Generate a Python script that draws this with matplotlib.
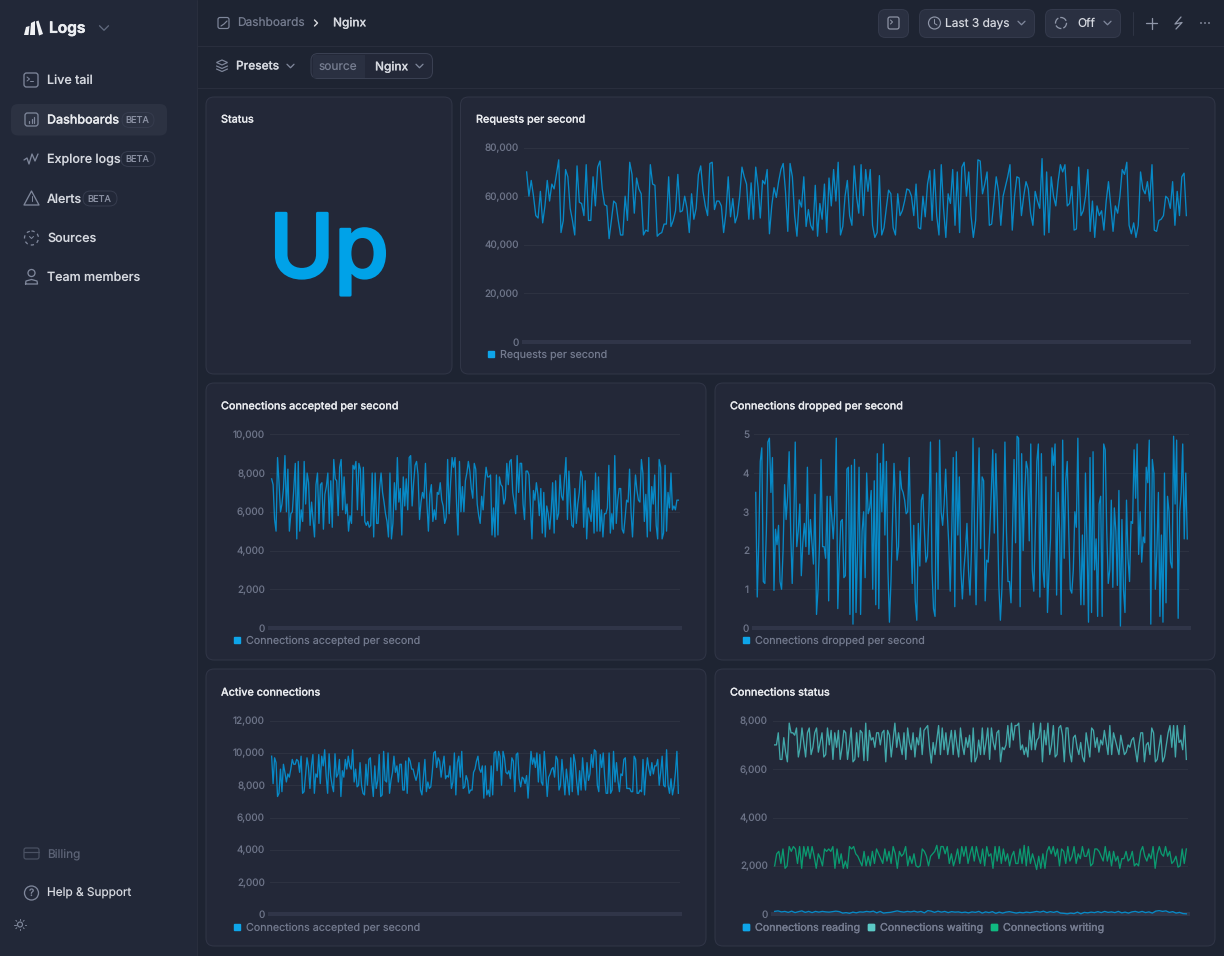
import matplotlib
matplotlib.use("Agg")
import matplotlib.pyplot as plt
import matplotlib.patheffects as pe
from matplotlib.patches import FancyBboxPatch, Rectangle, Circle, Polygon
from matplotlib.lines import Line2D
from matplotlib.ticker import FuncFormatter, FixedLocator

# ---------- data (thousands unless noted) ----------
requests_k = [70,60,66.5,60,52,51,62,49,56,66.5,58,65,63,69,75,45,50,71,68,55,50,44,72.5,57.5,57,52,73,50,50,68,56,72,74.5,63,56.5,56,42.5,50,58,57,50,44,44,60,50,74,69,53,67.5,63,61,44,46,45.5,73,65,64.5,43.5,44.5,45,48.5,48.5,68,47.5,50,54,69,53.5,54,60,55,45,61,50.5,55,69,72.5,62,56,52,73.5,74,54.5,58,58,56,45,53,68,51.5,59,49,52,60,72,68,65,50.5,65.5,50.5,72,64,51,66.5,65,71,44.5,56,63.5,59.5,66,71,73.5,62,45.5,73.5,68,52,43.5,58.5,55.5,68,47.5,54.5,48,46,64.5,43.5,57,50.5,65,45,67.5,56,71,58,74,44,47.5,60,66.5,
 52,48,72.5,60,53,73,52,71,62,71,48,43,45,68.5,44,47,55,62.5,61,47,44,61,52,54,58,63,62.5,60,52,65,47,46.5,60,51.5,65,70.5,50,71,52,44,73,55,43,61,57,71,48,70,45,72,74,60,70,52,43,50,75,74.5,61,65,70,48,48.5,58,68,62,48,60,64,68,73,46,60,68,67.5,52,60,66,63,53,48,62,58,55,75.5,44,70,45,68,60,56,66,73,70,73,56,57,64,46,46.5,72,52,54,60,71,45.5,58,43,56,52,54,46,58,66,56,45.5,56,53,60,71,69,74,48,44.5,49,43,48,70,63,61,66,58,73,46,45.5,50,50.5,52,60,59,55,66,48,62,52,68,69.5,52]

accepted_k = [7.7,7.4,5.6,5.0,8.8,7.5,6.0,6.4,7.2,8.9,6.0,8.2,5.0,5.9,6.0,7.2,8.5,4.6,8.6,5.0,6.1,5.5,8.6,6.4,8.0,7.5,5.3,6.5,5.6,4.7,7.4,8.0,5.4,7.4,7.5,5.1,6.9,7.3,8.0,5.4,7.6,5.2,8.7,7.7,7.6,5.8,8.3,8.7,6.1,7.8,5.9,6.4,5.0,5.8,5.4,8.4,8.2,8.6,6.1,8.5,8.2,5.8,8.3,5.5,5.3,5.5,5.2,5.3,8.0,4.7,8.0,5.4,5.4,7.2,8.0,7.0,6.5,5.9,5.5,4.7,8.0,4.6,5.4,7.5,6.1,8.8,6.5,7.2,4.8,7.8,6.3,7.7,6.1,8.8,8.9,6.3,7.5,8.4,8.6,7.9,5.6,6.5,7.0,6.7,8.5,6.4,5.0,6.9,7.4,5.5,6.1,5.6,7.0,6.9,7.5,6.6,6.3,5.4,5.7,8.7,5.9,7.5,8.8,8.3,8.8,6.5,4.8,8.6,6.0,7.3,6.0,7.6,8.0,8.6,8.1,7.2,6.7,8.5,8.2,6.4,5.8,5.4,6.8,6.1,7.4,8.3,7.8,7.8,7.9,4.8,6.2,4.7,7.9,4.8,7.8,7.4,7.3,6.4,6.7,8.5,7.4,8.6,8.7,7.0,6.5,5.9,8.9,7.0,8.5,8.5,6.4,5.6,8.1,8.1,7.9,6.3,4.6,7.1,6.6,7.5,6.9,5.8,7.2,4.9,7.0,4.7,6.3,5.9,5.1,6.0,7.5,4.9,7.6,5.6,5.9,7.9,6.8,6.6,7.7,8.8,5.6,8.1,6.5,5.3,5.2,7.2,5.4,6.4,7.0,8.1,7.8,5.2,7.6,4.6,6.2,5.9,5.5,7.1,4.9,8.0,5.0,7.8,5.0,6.1,4.7,5.9,5.9,6.2,8.4,4.9,5.9,5.1,8.9,5.4,6.6,7.2,7.2,5.1,4.9,5.7,6.6,6.5,8.2,6.0,4.7,6.5,7.9,7.1,6.6,6.5,8.7,8.0,5.5,6.9,4.7,8.8,5.0,7.3,6.4,7.9,5.3,4.6,8.7,8.3,4.6,4.9,8.4,5.0,7.0,6.2,8.0,6.1,6.3,6.1,6.6,6.6]

dropped = [3.5,0.8,2.2,4.3,4.65,1.2,1.15,2.5,4.8,4.9,3.5,4.4,0.97,2.55,2.15,2.65,1.2,1.0,2.0,3.7,2.8,3.4,4.55,2.5,1.15,2.6,4.8,2.1,2.5,3.2,1.35,2.2,2.7,2.1,4.15,1.9,2.8,2.2,1.65,3.45,0.35,1.0,2.2,4.35,2.1,2.1,1.8,3.4,0.7,3.4,2.9,2.3,3.0,4.9,0.5,1.8,2.75,2.8,1.3,1.35,4.1,4.15,0.35,4.2,0.1,4.35,0.4,2.0,4.15,0.35,2.5,3.0,1.3,4.0,2.95,3.1,3.55,1.0,3.8,0.6,4.5,0.5,4.25,3.0,4.75,2.4,4.3,1.5,0.15,1.2,2.7,4.25,3.2,1.75,2.1,4.05,3.6,3.5,3.3,2.95,3.0,4.4,2.5,1.15,2.65,0.7,0.2,2.7,1.6,3.3,3.45,2.5,1.7,1.85,3.0,4.8,1.5,0.5,0.3,4.0,1.0,4.85,3.0,2.65,3.2,4.1,3.0,2.2,0.95,2.5,4.4,0.55,4.55,2.4,3.9,1.5,0.75,1.5,2.0,2.7,1.5,0.85,2.0,4.9,2.5,0.6,3.0,4.65,2.05,3.9,3.8,0.7,1.75,1.7,2.5,3.5,4.6,2.45,4.5,3.0,1.1,0.2,1.0,2.5,4.8,2.5,1.2,1.2,0.65,2.5,4.35,2.2,4.95,4.9,0.55,4.5,2.0,3.5,4.3,4.1,2.25,4.75,1.5,0.95,2.5,4.3,4.75,0.8,4.5,1.5,1.05,3.9,0.4,1.5,2.3,4.65,4.2,4.75,0.85,3.5,2.5,0.35,4.85,1.8,3.8,4.3,2.5,1.0,0.9,1.5,3.0,2.6,4.9,2.0,0.6,2.4,0.6,4.0,2.2,0.15,4.4,0.4,4.55,1.5,2.3,0.3,3.2,3.4,0.3,4.75,4.6,2.5,1.15,1.5,3.3,1.05,3.1,2.5,1.1,3.55,0.05,2.8,1.0,0.4,3.3,1.8,1.2,2.75,2.7,4.6,3.35,4.75,1.9,3.0,1.7,2.35,2.2,4.15,3.75,4.85,0.1,4.35,4.0,1.0,2.0,3.5,0.3,2.4,0.15,4.0,0.65,3.4,3.0,1.7,1.55,4.95,3.2,4.85,0.25,3.0,3.5,4.75,2.3,4.0,2.3]

active_k = [9.8,8.1,9.7,9.4,7.3,7.5,9.0,7.6,9.3,8.8,8.2,8.7,8.5,9.0,9.6,9.3,9.3,9.6,9.5,8.8,9.8,7.5,7.6,8.6,9.7,9.1,7.8,9.2,9.9,7.5,8.7,8.5,9.9,8.1,9.8,9.2,10.2,8.6,7.5,9.95,8.6,8.0,7.6,9.95,8.5,8.7,9.6,7.3,8.9,8.5,9.6,9.0,9.8,9.2,9.0,10.2,8.2,9.0,7.9,8.0,9.4,8.0,7.5,7.4,9.3,8.0,9.6,9.7,8.2,7.3,9.2,7.8,8.3,9.9,7.3,7.4,10.1,8.3,8.2,10.0,7.5,8.3,8.8,9.8,8.8,9.2,8.2,9.3,9.3,7.7,7.7,9.5,7.5,9.7,9.5,9.0,9.0,8.6,8.3,8.7,9.4,7.7,7.4,8.5,9.6,7.6,8.2,7.8,7.9,8.8,10.0,10.1,9.1,9.7,9.5,8.5,9.2,9.8,8.4,8.6,8.5,9.2,7.8,8.2,10.0,7.4,9.4,9.8,8.5,10.1,7.8,7.9,8.6,8.3,7.5,7.7,7.7,8.8,9.0,9.5,9.8,9.0,8.8,9.2,7.2,9.2,7.4,7.7,7.3,9.2,7.4,10.0,10.1,8.9,10.1,9.8,8.0,10.1,9.7,8.8,8.7,8.9,8.4,9.7,9.5,7.6,9.9,10.0,8.4,7.9,8.5,8.4,8.1,8.6,7.2,8.7,10.1,9.3,9.7,9.1,10.0,8.2,9.9,8.2,8.0,10.1,8.8,7.3,8.5,8.7,9.0,9.1,8.5,9.8,9.6,7.7,8.0,9.6,8.5,7.4,9.0,8.2,7.4,9.7,7.6,9.9,9.4,8.2,7.4,8.9,7.7,9.7,8.5,7.7,9.4,8.3,8.7,9.9,9.1,10.2,10.1,8.0,7.6,9.9,9.1,10.0,8.5,7.5,7.5,10.0,7.5,7.7,10.1,8.2,9.4,8.3,7.6,8.7,8.6,9.6,9.7,7.8,7.8,7.8,7.6,7.6,9.8,9.6,7.5,7.5,7.7,7.6,9.6,7.4,8.8,9.7,9.0,8.6,9.4,8.7,9.2,9.2,9.6,8.0,8.8,9.8,8.0,7.9,10.2,8.0,7.5,8.4,7.4,7.9,8.8,10.1,7.5]

waiting_k = [7.0,7.0,7.5,6.4,6.4,7.3,6.7,6.3,7.9,7.5,7.5,7.4,7.7,6.5,6.9,7.7,7.1,6.5,7.5,7.7,6.6,6.9,7.5,7.7,6.7,7.1,7.5,6.5,6.6,7.7,7.0,7.6,6.4,7.5,6.9,7.6,6.4,6.9,7.6,7.5,6.4,7.0,7.7,6.3,6.4,7.5,6.5,7.6,7.5,6.35,7.9,6.35,7.6,7.2,7.3,6.9,7.5,7.5,7.0,7.5,7.6,6.3,7.6,7.4,6.5,7.2,7.9,6.9,7.5,7.0,6.6,7.5,6.4,7.7,7.1,6.8,7.5,6.5,7.3,7.0,7.7,6.6,7.6,7.7,7.8,6.9,6.25,7.1,6.6,7.2,7.8,6.6,7.7,6.8,7.5,6.6,7.1,7.6,6.6,7.6,7.0,6.5,7.7,7.0,6.6,7.3,6.9,7.4,6.3,7.7,6.3,6.5,7.2,6.6,7.7,6.6,7.1,7.7,6.4,7.7,7.1,6.8,7.5,7.6,6.3,6.9,6.8,7.0,7.8,6.9,7.9,7.2,7.8,7.8,7.9,6.8,7.0,6.6,6.9,6.5,7.6,6.8,7.9,6.8,7.2,7.3,7.9,6.3,7.6,7.0,7.9,6.6,7.0,7.8,6.5,6.6,7.7,7.8,7.4,6.3,7.7,7.7,6.7,6.3,7.3,7.4,6.9,6.6,7.1,6.5,6.3,7.5,7.0,6.5,7.7,7.6,6.9,7.3,6.7,7.2,7.0,7.6,7.1,6.6,7.8,6.6,7.5,7.2,6.9,6.6,7.4,7.0,6.6,6.7,7.0,6.9,7.2,7.3,6.8,6.3,7.0,7.5,7.5,6.3,7.0,7.1,6.6,7.7,7.5,6.3,6.4,6.9,7.4,6.3,6.5,7.0,7.5,7.8,6.9,7.8,6.5,7.8,7.1,7.2,6.8,7.8,6.4]

writing_k = [2.0,2.5,2.6,2.1,2.7,1.9,2.0,2.8,2.6,2.8,2.7,2.1,2.8,1.9,2.8,2.4,2.8,2.3,2.8,2.4,1.9,2.5,2.3,2.0,2.7,2.6,2.7,2.6,2.8,1.9,2.7,2.1,2.5,1.9,2.2,1.9,2.8,2.7,2.8,2.5,2.4,2.2,2.0,2.6,2.0,2.4,2.0,2.6,2.1,2.7,2.5,2.3,2.1,2.7,2.2,2.6,2.1,2.8,2.5,1.9,2.6,2.4,2.5,2.8,2.0,2.4,2.1,2.5,2.0,1.95,2.0,2.7,2.6,2.4,2.0,2.4,2.5,2.6,2.85,2.3,2.8,2.8,2.5,2.8,2.1,2.5,2.0,2.3,2.7,2.1,2.8,2.4,2.8,2.1,2.5,2.8,2.2,2.8,2.4,2.1,2.7,2.0,2.8,2.4,2.5,1.9,2.8,2.2,2.8,2.1,2.7,2.2,2.5,2.0,2.4,2.6,2.1,2.1,2.7,2.1,2.85,2.0,2.8,2.1,2.5,2.2,1.85,2.4,1.9,2.5,1.9,2.6,2.8,2.5,2.8,2.4,2.7,2.0,2.7,2.6,2.1,2.8,2.2,2.4,2.8,2.1,2.5,2.3,2.8,2.4,2.4,2.7,2.0,2.1,2.7,2.7,2.6,2.4,2.2,2.8,2.2,2.6,2.0,2.6,2.2,2.4,1.9,2.3,2.3,2.6,2.2,2.3,2.6,2.0,2.1,2.0,2.6,2.8,2.4,2.2,2.5,2.3,2.8,1.9,2.5,2.8,2.5,2.4,2.8,2.4,2.6,2.1,2.2,2.4,1.95,2.0,2.7,2.1,2.7]

reading_k = [.12,.14,.1,.12,.08,.13,.07,.11,.14,.08,.12,.07,.12,.09,.12,.1,.09,.11,.13,.11,.05,.07,.04,.09,.06,.1,.09,.12,.1,.13,.06,.12,.05,.07,.08,.11,.14,.11,.09,.12,.1,.13,.09,.12,.06,.15,.13,.08,.13,.09,.12,.07,.11,.09,.1,.07,.09,.06,.1,.08,.12,.05,.1,.07,.11,.04,.09,.05,.09,.11,.08,.05,.08,.06,.09,.07,.09,.12,.09,.13,.07,.11,.08,.12,.05,.04,.02,.05,.03,.09,.02,.08,.06,.09,.07,.11,.07,.12,.08,.1,.07,.12,.06,.09,.05,.1,.12,.08,.12,.07,.1,.05,.13,.15,.12,.14,.08,.11,.05,.08,.03,.02]

title_list = ["Requests per second","Connections accepted per second","Connections dropped per second","Active connections","Connections status"]
nav_items = ["Live tail","Dashboards","Explore logs","Alerts","Sources","Team members"]

# ---------- colours ----------
SIDE="#222838"; MAIN="#1e2432"; CARD="#232838"; EDGE="#313647"; SEP="#292e3d"
GRID="#2d3241"; BAND="#303548"; TICK="#6d7488"; LEG="#737a8e"; TXT="#d5d8df"; WHITE="#e8eaee"
BLUE_LINE="#0789c6"; BLUE="#0ea5e9"; TEAL_LINE="#42a8aa"; TEAL="#5cc9c6"; GREEN_LINE="#0b9a70"; GREEN="#10b981"
ICON="#7f879b"

plt.rcParams['font.family']=['Inter','DejaVu Sans']
plt.rcParams['text.hinting']='no_hinting'
plt.rcParams['text.hinting_factor']=1
W,H=1224,956
fig=plt.figure(figsize=(W/100,H/100),dpi=100,facecolor=MAIN)
ui=fig.add_axes([0,0,1,1]); ui.set_xlim(0,W); ui.set_ylim(H,0); ui.axis('off')
PT=72/100

def T(x,y,s,px=14,c=TXT,w=400,ha='left',z=5,bold=0):
    t=ui.text(x,y+1.2,s,fontsize=px*PT,color=c,fontweight=w,ha=ha,va='center',zorder=z)
    if bold:
        t.set_path_effects([pe.withStroke(linewidth=bold,foreground=c)])
    return t
def box(x0,y0,x1,y1,r=6,fc=CARD,ec=EDGE,lw=1,z=1):
    ui.add_patch(FancyBboxPatch((x0+r,y0+r),x1-x0-2*r,y1-y0-2*r,boxstyle=f"round,pad={r},rounding_size={r}",fc=fc,ec=ec,lw=lw*PT,zorder=z))
def L(xs,ys,c=ICON,lw=1.4,z=5):
    ui.plot(xs,ys,color=c,lw=lw*PT,zorder=z,solid_capstyle='round',solid_joinstyle='round')
def chev(x,y,s=4,c=ICON,lw=1.3):
    L([x-s,x,x+s],[y-s/2,y+s/2,y-s/2],c,lw)

# shell
ui.add_patch(Rectangle((0,0),197,H,fc=SIDE,ec='none',zorder=0))
L([197,197],[0,H],SEP,1,1)
L([197,W],[45.5,45.5],SEP,1,1)
L([197,W],[87.5,87.5],SEP,1,1)

# logo
for pts in ([(24,35),(26,27),(29.5,26),(28.5,35)],[(30,35),(31,23),(35,21),(35,35)],[(36,21.5),(38.5,20.5),(43,34),(39,35.5)]):
    ui.add_patch(Polygon(pts,fc="#f0f1f4",ec='none',zorder=5))
T(49,27.5,"Logs",15.5,"#eceef2",600,bold=0.4)
chev(104,28,4.5,"#616a7e")

# nav
nav_y=[79.5,119,158.5,198,237.5,276.5]
box(11,104,167,135.5,r=7,fc="#2c3242",ec='none',z=1)
for s,y in zip(nav_items,nav_y):
    T(47,y,s,12.5,WHITE if s=="Dashboards" else TXT,500,bold=0.15 if s=="Dashboards" else 0)
for x0,x1,y in ((122,154,120),(121,155,159),(83,117,198.5)):
    box(x0,y-7.5,x1,y+7.5,r=7.5,fc="none",ec="#363c4e",z=2)
    T((x0+x1)/2-.5,y-.7,"BETA",9.2,"#8a90a2",400,'center')
# nav icons
box(24,73,38,87,r=2.5,fc="none",ec=ICON,lw=1.3,z=5); L([27,29.5,27],[77,79,81],ICON,1); L([30,33],[81,81],ICON,1)
box(25,113,38,126,r=2.5,fc="none",ec=ICON,lw=1.3,z=5); L([29,29],[123,121],ICON,1.2); L([31.5,31.5],[123,119],ICON,1.2); L([34,34],[123,117],ICON,1.2)
L([24,27,29,32,35,38],[160,158,164,154,161,154],ICON,1.3)
ui.add_patch(Polygon([(31.5,191),(39,205),(24,205)],closed=True,fc='none',ec=ICON,lw=1.3*PT,joinstyle='round',zorder=5)); L([31.5,31.5],[196,201],ICON,1)
ui.add_patch(Circle((31.5,238),7,fc='none',ec=ICON,lw=1.3*PT,ls=(0,(2.5,2.5)),zorder=5)); L([29.5,31.5,33.5],[236.5,238.5,236.5],ICON,1)
ui.add_patch(Circle((31.5,273),3.5,fc='none',ec=ICON,lw=1.3*PT,zorder=5)); L([25.5,26,31.5,37,37.5,25.5],[284,281,279.5,281,284,284],ICON,1.3)
# bottom nav
T(47,852.5,"Billing",11.8,"#5c6376",400)
box(24,848,39,859,r=2,fc="none",ec="#4b5264",lw=1.2,z=5); L([24,39],[852,852],"#4b5264",1.2)
T(47,892.3,"Help & Support",11.8,TXT,400)
ui.add_patch(Circle((31.5,893),7,fc='none',ec=ICON,lw=1.3*PT,zorder=5)); T(31.5,891.8,"?",10,ICON,500,'center')
ui.add_patch(Circle((20,924.5),2.5,fc='none',ec=ICON,lw=1.2*PT,zorder=5))
for dx,dy in ((5,0),(-5,0),(0,5),(0,-5),(3.6,3.6),(-3.6,3.6),(3.6,-3.6),(-3.6,-3.6)):
    L([20+dx*.9,20+dx*1.15],[924.5+dy*.9,924.5+dy*1.15],ICON,1)

# top bar
box(218,17.5,229,28.5,r=2,fc="none",ec=ICON,lw=1.2,z=5); L([221,224,227],[26,24,21],ICON,1.2)
T(237.5,22.8,"Dashboards",11.9,"#767d90",400)
L([314.5,317.5,314.5],[20,23,26],"#d8dade",1.4)
T(333,21.8,"Nginx",11.9,TXT,500,bold=0.1)
box(878.5,9.5,908.5,37.5,r=7,fc="#2a3041",ec="#343a4c",z=2)
box(888,17,899,29,r=2,fc="none",ec="#9197a8",lw=1.2,z=5); L([890.5,892.5,890.5],[20,22,24],"#9197a8",1)
box(919.5,9.5,1034.5,37.5,r=7,fc="#2a3041",ec="#343a4c",z=2)
ui.add_patch(Circle((934.5,23),6,fc='none',ec="#8f96a8",lw=1.2*PT,zorder=5)); L([934.5,934.5,937],[19.5,23.5,25],"#8f96a8",1)
T(945,21.8,"Last 3 days",11.9,TXT,400); chev(1021.5,23,3.5)
box(1045.5,9.5,1120.5,37.5,r=7,fc="#2a3041",ec="#343a4c",z=2)
ui.add_patch(Circle((1061,23),5.5,fc='none',ec="#8f96a8",lw=1.3*PT,ls=(0,(5,1.5)),zorder=5))
T(1077,22.3,"Off",11.9,TXT,400); chev(1107.5,23,3.5)
L([1132.5,1132.5],[12,35],"#2e3444",1)
L([1146,1157],[23,23],"#8f96a8",1.3); L([1151.5,1151.5],[17.5,28.5],"#8f96a8",1.3)
L([1181,1175,1182,1176],[17,24,22.5,29],"#8f96a8",1.3)
for dx in (1201,1205,1209): ui.add_patch(Circle((dx,23),.9,fc="#8f96a8",ec='none',zorder=5))

# presets / source
ui.add_patch(Polygon([(222,60),(227.5,62.5),(222,65),(216.5,62.5)],fc='none',ec=ICON,lw=1.2*PT,zorder=5))
L([216.5,222,227.5],[66,68.5,66],ICON,1.2); L([216.5,222,227.5],[69,71.5,69],ICON,1.2)
T(236,65,"Presets",11.9,TXT,500,bold=0.1); chev(290.5,66,3.5)
box(311,53.5,432.5,78.5,r=7,fc="#232838",ec="#3a4052",z=2)
ui.add_patch(Rectangle((313,54.5),52,23,fc="#2a3041",ec='none',zorder=2))
T(319,65.8,"source",11.9,"#767d90",400); T(375,65.8,"Nginx",11.9,TXT,500,bold=0.1); chev(419.5,66,3.5)

# cards
cards=[(206,97,452,374),(460.5,97,1215,374),(206,383,706,660),(715,383,1215,660),(206,669,706,946),(715,669,1215,946)]
for c in cards: box(*c,r=8)
T(221,118.5,"Status",10.8,WHITE,500,bold=0.1)
T(329,253,"Up",88,"#00a2e8",500,'center',bold=2)

def chart(xrange,yrange,series,title,title_xy,yticks,fmt):
    (x0,x1),(ytop,ybot)=xrange,yrange
    ax=fig.add_axes([x0/W,1-ybot/H,(x1-x0)/W,(ybot-ytop)/H],facecolor='none',zorder=3)
    ax.set_ylim(0,yticks[-1])
    ax.set_xlim(-0.004,1.004)
    for vals,col in series:
        m=len(vals)
        ax.plot([i/(m-1) for i in range(m)],vals,color=col,lw=0.95,solid_joinstyle='round',clip_on=False,zorder=3)
    ax.yaxis.set_major_locator(FixedLocator(yticks))
    ax.yaxis.set_major_formatter(FuncFormatter(fmt))
    ax.tick_params(axis='y',length=0,pad=3.6,labelsize=10*PT,labelcolor=TICK)
    for lab in ax.get_yticklabels():
        lab.set_verticalalignment('center_baseline')
    ax.set_xticks([])
    ax.grid(axis='y',color=GRID,lw=0.85); ax.set_axisbelow(True)
    for sp in ('top','left','right'): ax.spines[sp].set_visible(False)
    ax.spines['bottom'].set_color(BAND); ax.spines['bottom'].set_linewidth(2.9)
    T(title_xy[0],title_xy[1],title,10.8,WHITE,500,bold=0.1)
    return ax

comma=lambda v,_:f"{int(v):,}"
K=lambda a:[v*1000 for v in a]
chart((524,1189),(147.7,341.7),[(K(requests_k),BLUE_LINE)],title_list[0],(476,118.5),[0,20000,40000,60000,80000],comma)
chart((270,680),(434.3,628),[(K(accepted_k),BLUE_LINE)],title_list[1],(221,405),[0,2000,4000,6000,8000,10000],comma)
chart((754,1189),(434.3,628),[(dropped,BLUE_LINE)],title_list[2],(730,405),[0,1,2,3,4,5],lambda v,_:f"{int(v)}")
chart((270,680),(720.7,914.3),[(K(active_k),BLUE_LINE)],title_list[3],(221,691.5),[0,2000,4000,6000,8000,10000,12000],comma)
chart((773,1188),(720.7,914.3),[(K(reading_k),BLUE_LINE),(K(waiting_k),TEAL_LINE),(K(writing_k),GREEN_LINE)],title_list[4],(730,691.5),[0,2000,4000,6000,8000],comma)

def legend(items,x,y):
    hs=[Line2D([],[],ls='none',marker='s',ms=5,color=c,label=t) for t,c in items]
    lg=ui.legend(handles=hs,loc='center left',bbox_to_anchor=(x-3.5,y),bbox_transform=ui.transData,frameon=False,
              fontsize=10.7*PT,labelcolor=LEG,handlelength=0.65,handletextpad=0.5,columnspacing=0.72,ncol=len(items),borderpad=0,borderaxespad=0)
    lg.set_zorder(6)
    return lg
lgs=[([("Requests per second",BLUE)],491,354.4),
     ([("Connections accepted per second",BLUE)],237,640.8),
     ([("Connections dropped per second",BLUE)],746,640.8),
     ([("Connections accepted per second",BLUE)],237,927.3),
     ([("Connections reading",BLUE),("Connections waiting",TEAL),("Connections writing",GREEN)],746,927.3)]
for it,x,y in lgs:
    ui.add_artist(legend(it,x,y))

fig.savefig("out.png",dpi=100,facecolor=MAIN)
